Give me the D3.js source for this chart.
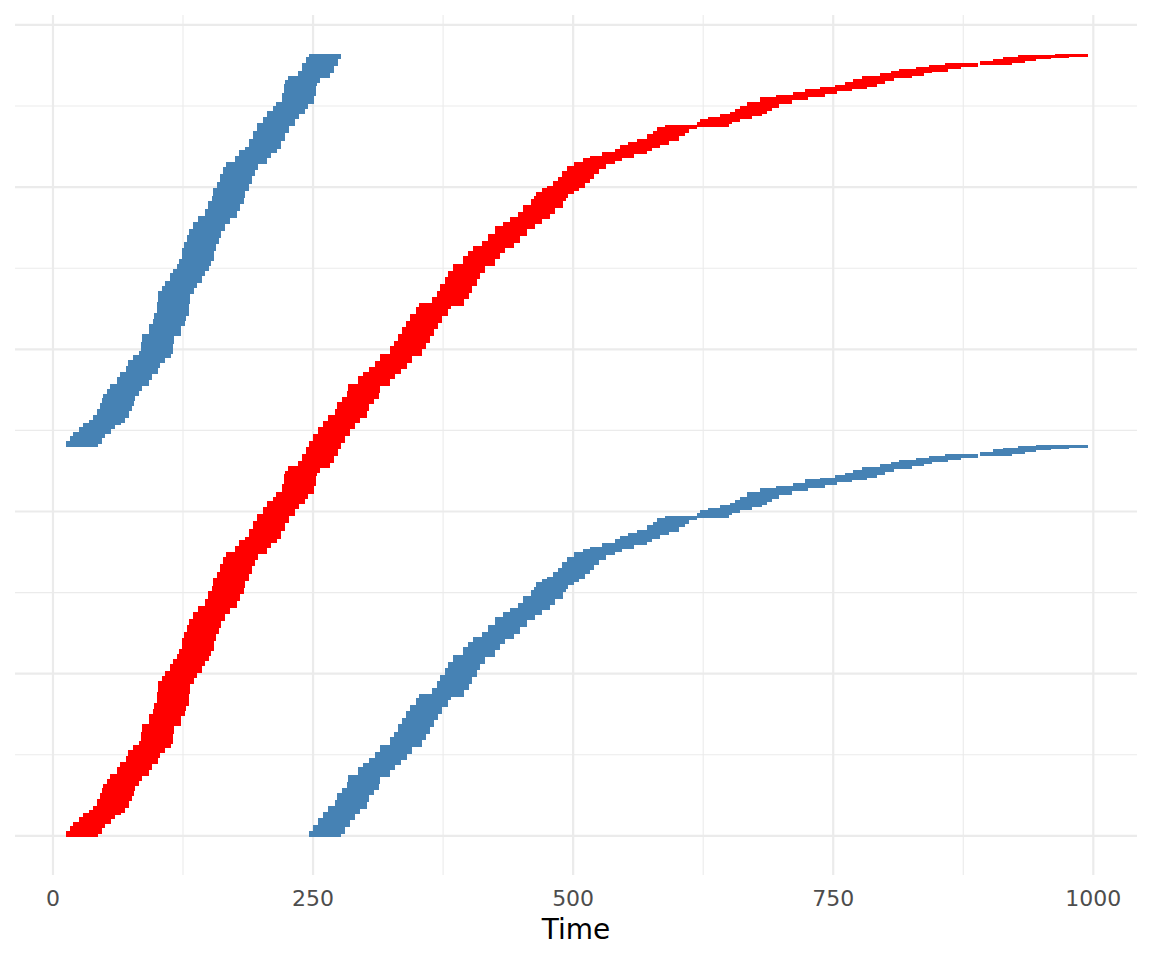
<!DOCTYPE html>
<html>
<head>
<meta charset="utf-8">
<script src="https://cdn.jsdelivr.net/npm/d3@7"></script>
<style>
  html, body { margin: 0; padding: 0; background: #ffffff; }
  svg { display: block; font-family: "DejaVu Sans", sans-serif; }
</style>
</head>
<body>
<svg id="chart" width="1152" height="960"></svg>
<script>
// ---- data ----
// row id (y) where each step of the red series starts, and its start time
const rowIds = [0,4,11,16,22,27,30,36,44,51,57,63,69,75,83,90,97,104,110,115,
  127,137,149,155,162,176,189,196,202,211,217,223,229,242,250,258,266,275,282,291,
  300,307,316,324,334,342,349,356,363,367,377,387,396,404,411,417,423,433,445,449,
  455,461,470,478,486,494,503,510,517,525,534,540,547,556,565,571,577,584,593,602,
  609,618,626,634,642,651,655,663,671,679,688,695,704,713,720,726,732,741,750,756,
  762,768,776,784,788,793,797,800,806,811,818,824,830,834,837,842,846,850,854,858,
  864,868,873,875,879,882,885,889,891,895,899,904,909,912,916,920,922,925,928,932,
  936,939,942,944,947,949,952,954,957,959,961,962];
const startTimes = [12.5,16.3,19.2,25.0,28.8,34.6,38.5,42.3,45.2,47.1,
  48.1,51.9,54.8,61.5,64.4,70.2,72.1,76.9,82.7,84.6,
  85.6,92.3,96.2,97.1,100.0,101.0,104.8,107.7,112.5,115.4,
  119.2,121.2,124.0,126.0,128.8,130.8,134.6,139.4,146.2,149.0,
  152.9,153.8,157.7,160.6,163.5,166.3,175.0,178.8,184.6,188.5,
  192.3,196.2,201.9,205.8,211.5,214.4,220.2,222.1,223.1,226.0,
  235.6,239.4,243.3,246.2,250.0,254.8,259.6,264.4,271.2,273.1,
  277.9,282.7,283.7,293.3,298.1,303.8,309.6,314.4,324.0,327.9,
  331.7,335.6,339.4,343.3,349.0,351.9,364.4,369.2,372.1,376.9,
  379.8,384.6,394.2,399.0,403.8,412.5,418.3,425.0,432.7,439.4,
  447.1,451.9,459.6,462.5,464.4,470.2,475.0,480.8,485.6,489.4,
  494.2,501.0,509.6,516.3,527.9,540.4,545.2,552.9,561.5,571.2,
  576.9,580.8,588.5,619.2,622.1,629.8,641.3,651.0,655.8,660.6,
  667.3,679.8,695.2,711.5,723.1,737.5,751.9,761.5,769.2,777.9,
  795.2,805.8,813.5,829.8,842.3,857.7,891.3,903.8,913.5,927.9,
  945.2,963.5];
const duration = 31;        // length of each segment (time units)
const rowCount = 963;       // number of rows
const blueShift = 482;      // the blue series lists the rows starting from this row

const xTicks = [0, 250, 500, 750, 1000];
const xTickLabels = ["0", "250", "500", "750", "1000"];
const xMinor = [125, 375, 625, 875];
const yMajor = [0, 200, 400, 600, 800, 1000];
const yMinor = [100, 300, 500, 700, 900];

// ---- layout ----
const svg = d3.select("#chart");
const panel = { left: 15, right: 1137, top: 15, bottom: 875 };

const x = d3.scaleLinear().domain([-36.5, 1042]).range([panel.left, panel.right]);
const y = d3.scaleLinear().domain([-48.2, 1012.2]).range([panel.bottom, panel.top]);

// grid
const grid = svg.append("g");
grid.selectAll(".ymin").data(yMinor).enter().append("line")
  .attr("x1", panel.left).attr("x2", panel.right)
  .attr("y1", d => y(d)).attr("y2", d => y(d))
  .attr("stroke", "#ebebeb").attr("stroke-width", 1.1);
grid.selectAll(".xmin").data(xMinor).enter().append("line")
  .attr("y1", panel.top).attr("y2", panel.bottom)
  .attr("x1", d => x(d)).attr("x2", d => x(d))
  .attr("stroke", "#ebebeb").attr("stroke-width", 1.1);
grid.selectAll(".ymaj").data(yMajor).enter().append("line")
  .attr("x1", panel.left).attr("x2", panel.right)
  .attr("y1", d => y(d)).attr("y2", d => y(d))
  .attr("stroke", "#ebebeb").attr("stroke-width", 2.2);
grid.selectAll(".xmaj").data(xTicks).enter().append("line")
  .attr("y1", panel.top).attr("y2", panel.bottom)
  .attr("x1", d => x(d)).attr("x2", d => x(d))
  .attr("stroke", "#ebebeb").attr("stroke-width", 2.2);

// build intervals of rows
const steps = rowIds.map((id, i) => ({
  lo: id,
  hi: i < rowIds.length - 1 ? rowIds[i + 1] : rowCount,
  t: startTimes[i]
}));

const redRects = steps.map(s => ({ lo: s.lo, hi: s.hi, t: s.t }));
const blueRects = [];
steps.forEach(s => {
  if (s.hi <= blueShift) {
    blueRects.push({ lo: s.lo + rowCount - blueShift, hi: s.hi + rowCount - blueShift, t: s.t });
  } else if (s.lo >= blueShift) {
    blueRects.push({ lo: s.lo - blueShift, hi: s.hi - blueShift, t: s.t });
  } else {
    blueRects.push({ lo: s.lo + rowCount - blueShift, hi: rowCount, t: s.t });
    blueRects.push({ lo: 0, hi: s.hi - blueShift, t: s.t });
  }
});

function drawRects(data, color) {
  svg.append("g").selectAll("rect").data(data).enter().append("rect")
    .attr("x", d => x(d.t))
    .attr("width", d => x(d.t + duration) - x(d.t))
    .attr("y", d => y(d.hi) - 1.2)
    .attr("height", d => y(d.lo) - y(d.hi) + 2.4)
    .attr("fill", color)
    .attr("shape-rendering", "crispEdges");
}
drawRects(blueRects, "#4682b4");
drawRects(redRects, "#ff0000");

// x tick labels
svg.append("g").selectAll("text").data(xTicks).enter().append("text")
  .attr("x", d => x(d)).attr("y", 906)
  .attr("text-anchor", "middle")
  .attr("font-size", 22)
  .attr("fill", "#4d4d4d")
  .text((d, i) => xTickLabels[i]);

// axis title
svg.append("text")
  .attr("x", (panel.left + panel.right) / 2).attr("y", 939)
  .attr("text-anchor", "middle")
  .attr("font-size", 28)
  .attr("fill", "#000000")
  .text("Time");
</script>
</body>
</html>
